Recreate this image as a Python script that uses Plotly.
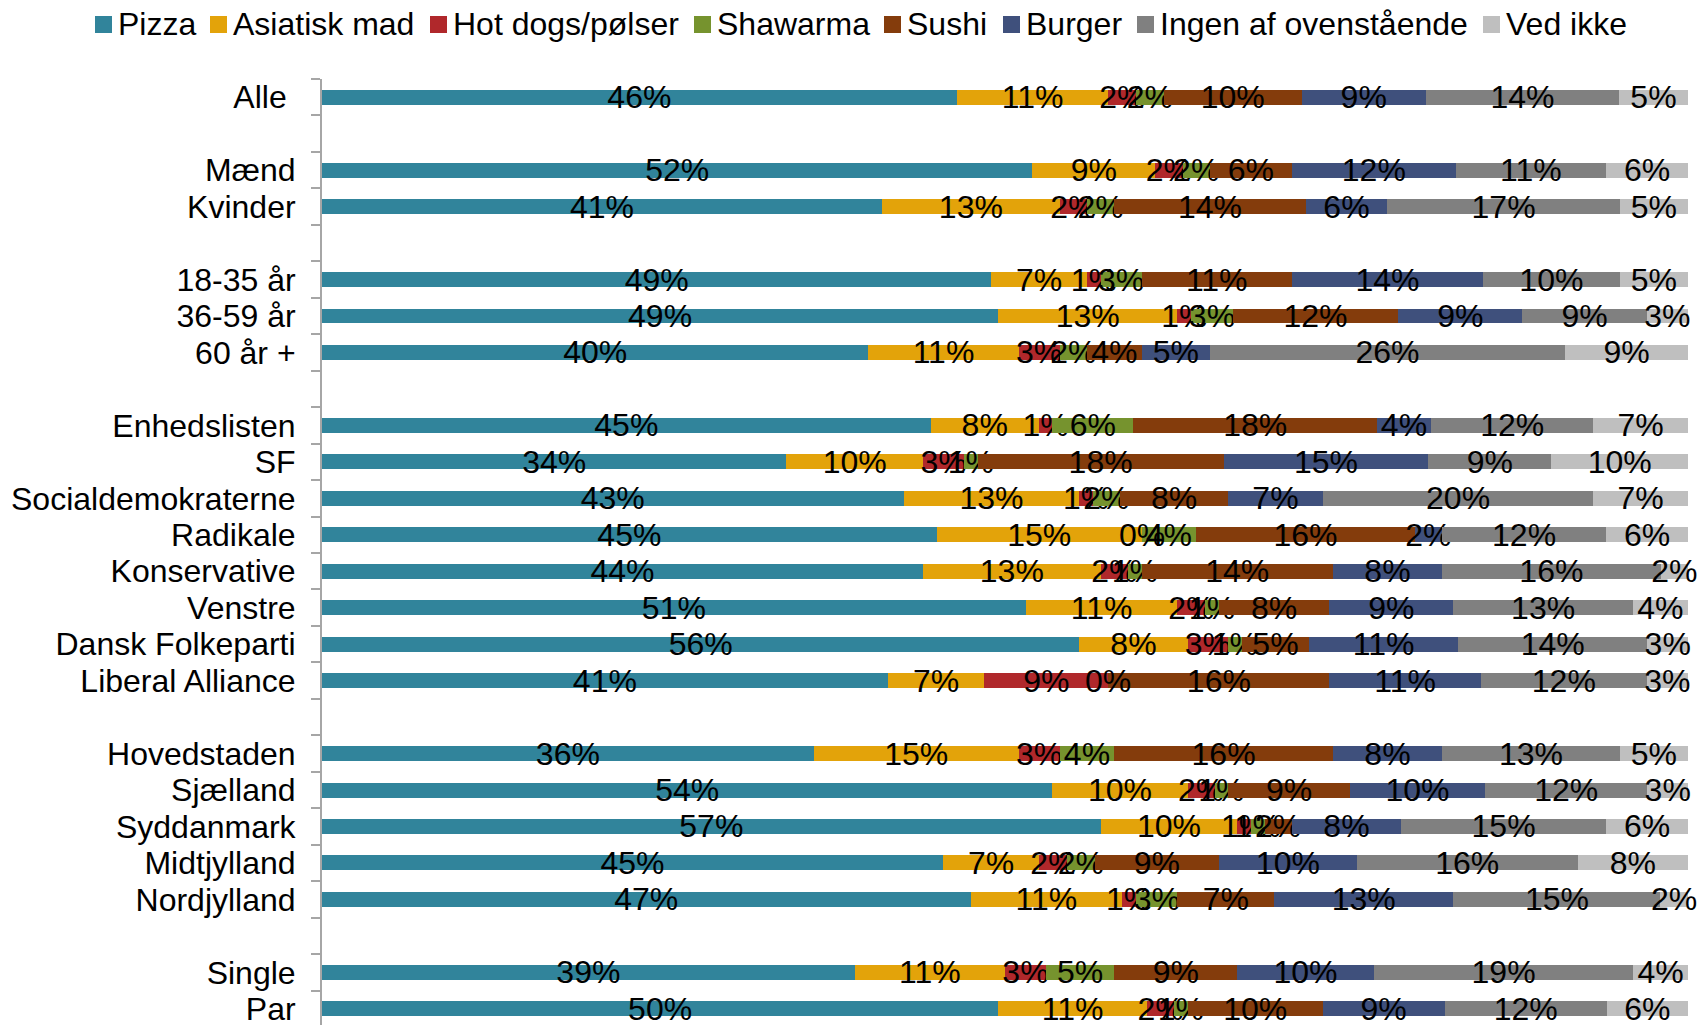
import plotly.graph_objects as go

# ---- data ----
categories = ["Alle", " ", "Mænd", "Kvinder", "  ", "18-35 år", "36-59 år", "60 år +", "   ",
              "Enhedslisten", "SF", "Socialdemokraterne", "Radikale", "Konservative", "Venstre",
              "Dansk Folkeparti", "Liberal Alliance", "    ",
              "Hovedstaden", "Sjælland", "Syddanmark", "Midtjylland", "Nordjylland", "     ",
              "Single", "Par"]
tick_labels = ["Alle\u00a0"] + categories[1:]

series_names = ["Pizza", "Asiatisk mad", "Hot dogs/pølser", "Shawarma", "Sushi", "Burger",
                "Ingen af ovenstående", "Ved ikke"]

pizza      = [46, None, 52, 41, None, 49, 49, 40, None, 45, 34, 43, 45, 44, 51, 56, 41, None, 36, 54, 57, 45, 47, None, 39, 50]
asiatisk   = [11, None, 9, 13, None, 7, 13, 11, None, 8, 10, 13, 15, 13, 11, 8, 7, None, 15, 10, 10, 7, 11, None, 11, 11]
hotdogs    = [2, None, 2, 2, None, 1, 1, 3, None, 1, 3, 1, 0, 2, 2, 3, 9, None, 3, 2, 1, 2, 1, None, 3, 2]
shawarma   = [2, None, 2, 2, None, 3, 3, 2, None, 6, 1, 2, 4, 1, 1, 1, 0, None, 4, 1, 1, 2, 3, None, 5, 1]
sushi      = [10, None, 6, 14, None, 11, 12, 4, None, 18, 18, 8, 16, 14, 8, 5, 16, None, 16, 9, 2, 9, 7, None, 9, 10]
burger     = [9, None, 12, 6, None, 14, 9, 5, None, 4, 15, 7, 2, 8, 9, 11, 11, None, 8, 10, 8, 10, 13, None, 10, 9]
ingen      = [14, None, 11, 17, None, 10, 9, 26, None, 12, 9, 20, 12, 16, 13, 14, 12, None, 13, 12, 15, 16, 15, None, 19, 12]
ved_ikke   = [5, None, 6, 5, None, 5, 3, 9, None, 7, 10, 7, 6, 2, 4, 3, 3, None, 5, 3, 6, 8, 2, None, 4, 6]

series_values = [pizza, asiatisk, hotdogs, shawarma, sushi, burger, ingen, ved_ikke]
colors = ["#31849B", "#E3A30A", "#B0282B", "#76932E", "#843C0C", "#3F507C", "#808080", "#BFBFBF"]

FONT = "Arial, 'Liberation Sans', sans-serif"

# ---- layout constants (pixels) ----
W, H = 1700, 1025
ML, MR, MT, MB = 322, 12, 79, 0
PW, PH = W - ML - MR, H - MT - MB
legend_swatch_x = [95, 210, 430, 694, 884, 1003, 1137, 1483]


def px_x(p):
    return (p - ML) / PW


def px_y(p):
    return (H - MB - p) / PH


fig = go.Figure()
for name, vals, col in zip(series_names, series_values, colors):
    fig.add_trace(go.Bar(
        y=categories, x=vals, name=name, orientation="h",
        marker=dict(color=col, line=dict(width=0)),
        text=[f"{v}%" if v else "" for v in vals],
        textposition="inside", insidetextanchor="middle",
        constraintext="none", textangle=0, cliponaxis=False,
        textfont=dict(size=32, color="black", family=FONT),
        hoverinfo="skip", showlegend=False,
    ))

# labels for zero-width segments (bar text is not drawn for empty bars)
annotations = []
for j, cat in enumerate(categories):
    if pizza[j] is None:
        continue
    total = sum(s[j] for s in series_values)
    cum = 0
    for s in series_values:
        if s[j] == 0:
            annotations.append(dict(x=100 * cum / total, y=cat, xref="x", yref="y",
                                    text="0%", showarrow=False, xanchor="center",
                                    yanchor="middle",
                                    font=dict(size=32, color="black", family=FONT)))
        cum += s[j]

# custom legend (one line, like the original)
shapes = []
for name, col, sx in zip(series_names, colors, legend_swatch_x):
    shapes.append(dict(type="rect", xref="paper", yref="paper",
                       x0=px_x(sx), x1=px_x(sx + 17), y0=px_y(33), y1=px_y(16),
                       fillcolor=col, line=dict(width=0), layer="above"))
    annotations.append(dict(x=px_x(sx + 21), y=px_y(24.5), xref="paper", yref="paper",
                            text=name, showarrow=False, xanchor="left", yanchor="middle",
                            font=dict(size=32, color="black", family=FONT)))

fig.update_layout(
    width=W, height=H,
    barmode="stack", barnorm="percent", bargap=0.59,
    plot_bgcolor="white", paper_bgcolor="white",
    margin=dict(l=ML, r=MR, t=MT, b=MB, autoexpand=False),
    font=dict(family=FONT, size=32, color="black"),
    showlegend=False,
    shapes=shapes,
    annotations=annotations,
    xaxis=dict(range=[0, 100.0005], visible=False, fixedrange=True),
    yaxis=dict(type="category", categoryorder="array", categoryarray=categories,
               tickmode="array", tickvals=categories, ticktext=tick_labels,
               range=[25.444, -0.5], tickson="boundaries", ticks="outside",
               ticklen=9, tickwidth=2, tickcolor="#A6A6A6",
               showline=True, linecolor="#A6A6A6", linewidth=2,
               showgrid=False, zeroline=False, automargin=False,
               ticklabelstandoff=18,
               tickfont=dict(size=32, color="black", family=FONT)),
)

fig.write_html("out.html", config={"displayModeBar": False},
               post_script="document.body.style.margin='0';document.body.style.overflow='hidden';")
